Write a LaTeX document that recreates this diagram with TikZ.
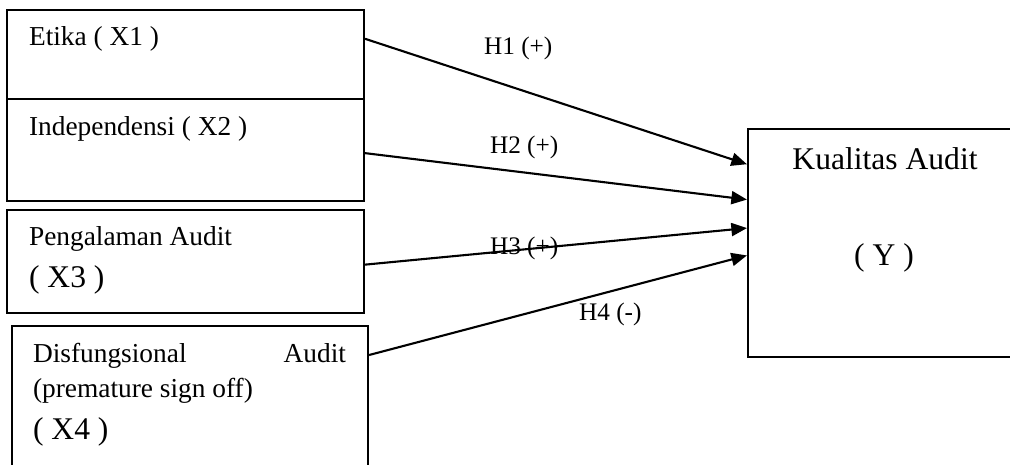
\documentclass[tikz,border=0pt]{standalone}
\usepackage{fontspec}
\setmainfont{Liberation Serif}
\usetikzlibrary{arrows.meta}
\newcommand{\pxu}{0.475pt}

\begin{document}
\begin{tikzpicture}[x=\pxu, y=-\pxu, line width=1pt,
		box/.style={draw, rectangle, inner sep=0pt, minimum width=357*\pxu},
		txt/.style={inner sep=0pt, anchor=base west, font=\fontsize{13}{15}\selectfont},
		tag/.style={inner sep=0pt, anchor=base west, font=\fontsize{15}{18}\selectfont},
		hyp/.style={inner sep=0pt, anchor=base west, font=\fontsize{12}{14}\selectfont},
		arr/.style={-{Triangle[length=7.4pt, width=6.2pt]}}]
	\useasboundingbox (0,0) rectangle (1010,464);

	% variabel bebas
	\node[box, minimum height=89*\pxu] (X1) at (185.5,54.5) {};
	\node[box, minimum height=102*\pxu] (X2) at (185.5,150) {};
	\node[box, minimum height=103*\pxu] (X3) at (185.5,261.5) {};
	\node[box, minimum width=356*\pxu, minimum height=154*\pxu] (X4) at (190,403) {};
	% variabel terikat
	\node[box, minimum width=282*\pxu, minimum height=228*\pxu] (Y) at (889,243) {};

	\node[txt] (tX1) at (28,45) {Etika ( X1 )};
	\node[txt] (tX2) at (28,135) {Independensi ( X2 )};
	\node[txt] (tX3) at (28,245) {Pengalaman Audit};
	\node[tag] (kX3) at (28,287) {( X3 )};
	\node[txt, text width=313*\pxu] (tX4) at (32,362) {Disfungsional\hfill Audit};
	\node[txt] (pX4) at (32,397) {(premature sign off)};
	\node[tag] (kX4) at (32,439) {( X4 )};
	\node[tag, anchor=base] (tY) at (885,169) {Kualitas Audit};
	\node[tag, anchor=base] (kY) at (884,265) {( Y )};

	\draw[arr] (X1.5.28) -- (Y.151.05);
	\draw[arr] (X2.-1.6) -- (Y.163.04);
	\draw[arr] (X3.-1.44) -- (Y.174.33);
	\draw[arr] (X4.15.1) -- (Y.185.67);

	\node[hyp] (H1) at (483,54) {H1 (+)};
	\node[hyp] (H2) at (489,153) {H2 (+)};
	\node[hyp] (H3) at (489,254) {H3 (+)};
	\node[hyp] (H4) at (578,320) {H4 (-)};
\end{tikzpicture}
\end{document}
